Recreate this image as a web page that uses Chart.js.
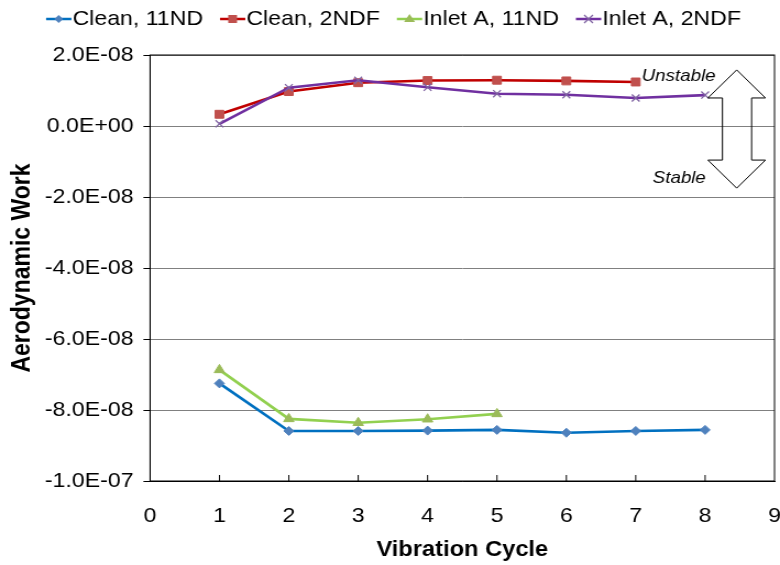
<!DOCTYPE html>
<html lang="en">
<head>
    <meta charset="UTF-8">
    <title>Aerodynamic Work</title>
    <style>
        body { margin: 0; padding: 0; background: #fff; overflow: hidden; }
        /* the reference is a bit wider than its fonts suggest, so stretch the drawing */
        #wrap { width: 709px; height: 565px; transform: scaleX(1.10014); transform-origin: 0 0; }
    </style>
</head>
<body>
    <div id="wrap"><canvas id="workChart" width="709" height="565"></canvas></div>

    <script src="https://cdn.jsdelivr.net/npm/chart.js"></script>
    <script>
        // data
        const cycles = [1, 2, 3, 4, 5, 6, 7, 8];
        const clean11ND = [-7.25e-8, -8.59e-8, -8.59e-8, -8.58e-8, -8.56e-8, -8.64e-8, -8.59e-8, -8.56e-8];
        const clean2NDF = [3.3e-9, 0.97e-8, 1.22e-8, 1.28e-8, 1.29e-8, 1.27e-8, 1.24e-8];
        const inletA11ND = [-6.87e-8, -8.25e-8, -8.36e-8, -8.26e-8, -8.11e-8];
        const inletA2NDF = [0.06e-8, 1.08e-8, 1.29e-8, 1.09e-8, 0.91e-8, 0.88e-8, 0.79e-8, 0.87e-8];
        const seriesNames = ['Clean, 11ND', 'Clean, 2NDF', 'Inlet A, 11ND', 'Inlet A, 2NDF'];
        const lineColors = ['#0070C0', '#C00000', '#92D050', '#7030A0'];
        const markColors = ['#4F81BD', '#C0504D', '#9BBB59', '#8064A2'];

        const font = "'Liberation Sans', Arial, sans-serif";

        function pts(vals) {
            return vals.map((v, i) => ({ x: cycles[i], y: v }));
        }

        function fmtE(v) {
            if (Math.abs(v) < 1e-15) return '0.0E+00';
            let s = v.toExponential(1).toUpperCase();
            return s.replace(/E([+-])(\d)$/, 'E$10$2');
        }

        // little "line with marker" swatch for the legend
        function swatch(g, i, x, cy) {
            const cx = x + 11.5;
            g.save();
            g.strokeStyle = lineColors[i];
            g.lineWidth = 2.5;
            g.beginPath();
            g.moveTo(x, cy);
            g.lineTo(x + 23, cy);
            g.stroke();
            g.fillStyle = markColors[i];
            g.strokeStyle = markColors[i];
            g.beginPath();
            if (i === 0) {
                g.moveTo(cx, cy - 4); g.lineTo(cx + 4, cy); g.lineTo(cx, cy + 4); g.lineTo(cx - 4, cy);
                g.fill();
            } else if (i === 1) {
                g.fillRect(cx - 4, cy - 4, 8, 8);
            } else if (i === 2) {
                g.moveTo(cx, cy - 5); g.lineTo(cx + 5, cy + 3); g.lineTo(cx - 5, cy + 3);
                g.fill();
            } else {
                g.lineWidth = 1.3;
                g.moveTo(cx - 4, cy - 4); g.lineTo(cx + 4, cy + 4);
                g.moveTo(cx + 4, cy - 4); g.lineTo(cx - 4, cy + 4);
                g.stroke();
            }
            g.restore();
        }

        // legend, box, inner x ticks, stable/unstable arrow
        const decor = {
            id: 'decor',
            afterDraw(chart) {
                const ctx = chart.ctx;
                const a = chart.chartArea;
                const xs = chart.scales.x, ys = chart.scales.y;
                ctx.save();

                // legend row
                ctx.font = '21px ' + font;
                ctx.textBaseline = 'middle';
                ctx.textAlign = 'left';
                ctx.fillStyle = '#000';
                const widths = seriesNames.map(s => ctx.measureText(s).width);
                const total = widths.reduce((s, w) => s + w + 24, 0) + 15.4 * (seriesNames.length - 1);
                let lx = 357.7 - total / 2;
                seriesNames.forEach((s, i) => {
                    swatch(ctx, i, lx, 19);
                    ctx.fillText(s, lx + 24, 19);
                    lx += 24 + widths[i] + 15.4;
                });

                ctx.strokeStyle = '#000';
                ctx.lineWidth = 1;
                ctx.strokeRect(a.left, a.top, a.right - a.left, a.bottom - a.top);
                for (let i = 1; i <= 8; i++) {
                    const px = xs.getPixelForValue(i);
                    ctx.beginPath();
                    ctx.moveTo(px, a.bottom);
                    ctx.lineTo(px, a.bottom - 6);
                    ctx.stroke();
                }
                // double arrow
                const X = v => xs.getPixelForValue(v);
                const Y = v => ys.getPixelForValue(v);
                const l = X(8.04), r = X(8.87), sl = X(8.25), sr = X(8.67), c = X(8.455);
                const top = Y(1.58e-8), hb = Y(0.79e-8), ht = Y(-0.96e-8), bot = Y(-1.75e-8);
                ctx.beginPath();
                ctx.moveTo(c, top);
                ctx.lineTo(r, hb);
                ctx.lineTo(sr, hb);
                ctx.lineTo(sr, ht);
                ctx.lineTo(r, ht);
                ctx.lineTo(c, bot);
                ctx.lineTo(l, ht);
                ctx.lineTo(sl, ht);
                ctx.lineTo(sl, hb);
                ctx.lineTo(l, hb);
                ctx.closePath();
                ctx.stroke();
                ctx.font = 'italic 17px ' + font;
                ctx.textAlign = 'right';
                ctx.fillText('Unstable', X(8.15), Y(1.39e-8));
                ctx.fillText('Stable', X(8.01), Y(-1.46e-8));
                ctx.restore();
            }
        };

        const series = [clean11ND, clean2NDF, inletA11ND, inletA2NDF];
        const styles = ['rectRot', 'rect', 'triangle', 'crossRot'];
        const radii = [4.5, 5.6, 5.5, 5];

        new Chart(document.getElementById('workChart').getContext('2d'), {
            type: 'line',
            data: {
                datasets: series.map((vals, i) => ({
                    label: seriesNames[i],
                    data: pts(vals),
                    borderColor: lineColors[i],
                    backgroundColor: markColors[i],
                    pointBorderColor: markColors[i],
                    pointBackgroundColor: markColors[i],
                    pointStyle: styles[i],
                    pointRadius: radii[i],
                    pointBorderWidth: i === 3 ? 1.3 : 1,
                    borderWidth: 2.6,
                    order: 3 - i
                }))
            },
            options: {
                responsive: false,
                animation: false,
                layout: { autoPadding: false, padding: { top: 55, right: 5, left: 7, bottom: 0 } },
                plugins: {
                    legend: { display: false },
                    tooltip: { enabled: false }
                },
                scales: {
                    x: {
                        type: 'linear',
                        min: 0,
                        max: 9,
                        afterFit(scale) { scale.height = 84; scale.paddingRight = 0; scale.paddingLeft = 0; },
                        ticks: { stepSize: 1, color: '#000', font: { family: font, size: 21 }, padding: 23 },
                        grid: { display: false, drawTicks: false },
                        border: { color: '#000' },
                        title: { display: true, text: 'Vibration Cycle', color: '#000', font: { family: font, size: 21.5, weight: 'bold' }, padding: { top: 8, bottom: 2 } }
                    },
                    y: {
                        min: -1e-7,
                        max: 2e-8,
                        afterFit(scale) { scale.width = 129.4; },
                        ticks: { stepSize: 2e-8, color: '#000', font: { family: font, size: 21 }, padding: 9, callback: v => fmtE(v) },
                        grid: { color: '#808080', tickColor: '#000', tickLength: 6 },
                        border: { color: '#000' },
                        title: { display: true, text: 'Aerodynamic Work', color: '#000', font: { family: font, size: 23, weight: 'bold' }, padding: { top: 0, bottom: 6 } }
                    }
                }
            },
            plugins: [decor]
        });
    </script>
</body>
</html>
